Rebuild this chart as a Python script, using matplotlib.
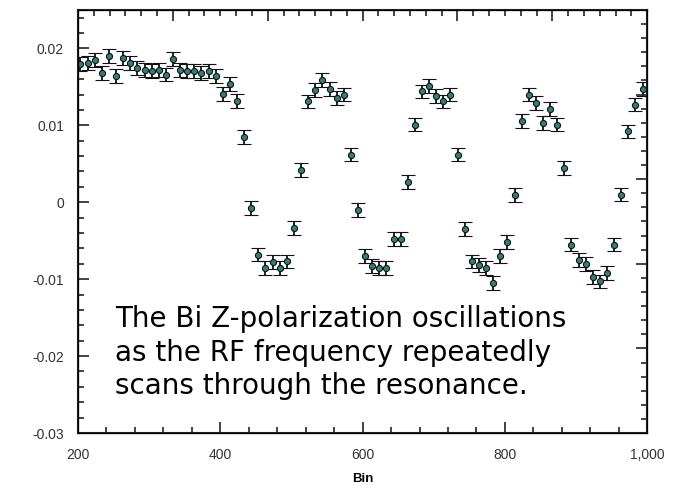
import numpy as np
import matplotlib
matplotlib.use("Agg")
import matplotlib.pyplot as plt
from matplotlib.ticker import MultipleLocator, FixedLocator, NullFormatter, FuncFormatter

# --- measured polarization per bin ---
bins = [203.5 + 10 * i for i in range(80)]
pol = [
    0.0180, 0.0181, 0.0185, 0.0168, 0.0190, 0.0164, 0.0188, 0.0181, 0.0175, 0.0172,
    0.0171, 0.0172, 0.0166, 0.0186, 0.0172, 0.0171, 0.0171, 0.0168, 0.0171, 0.0164,
    0.0141, 0.0154, 0.0132, 0.0085, -0.0007, -0.0068, -0.0086, -0.0078, -0.0085, -0.0077,
    -0.0033, 0.0042, 0.0131, 0.0146, 0.0159, 0.0147, 0.0136, 0.0140, 0.0062, -0.0010,
    -0.0070, -0.0083, -0.0086, -0.0085, -0.0048, -0.0048, 0.0026, 0.0101, 0.0144, 0.0151,
    0.0138, 0.0131, 0.0140, 0.0062, -0.0035, -0.0077, -0.0082, -0.0086, -0.0105, -0.0070,
    -0.0052, 0.0009, 0.0106, 0.0140, 0.0129, 0.0103, 0.0121, 0.0101, 0.0045, -0.0055,
    -0.0075, -0.0080, -0.0097, -0.0103, -0.0092, -0.0055, 0.0010, 0.0092, 0.0127, 0.0147,
]
pol_err = [0.0009] * 80

note = ("The Bi Z-polarization oscillations\n"
        "as the RF frequency repeatedly\n"
        "scans through the resonance.")

plt.rcParams["font.family"] = ["Liberation Sans", "DejaVu Sans"]

fig = plt.figure(figsize=(6.9, 4.98), dpi=100)
ax = fig.add_axes([0.113, 0.1305, 0.825, 0.8495])

ax.errorbar(bins, pol, yerr=pol_err, fmt="o", ms=4.4, mfc="#2f7f7a", mec="#111111",
            mew=0.8, ecolor="#111111", elinewidth=1.3, capsize=4.8, capthick=1.7, zorder=3)

ax.set_xlim(200, 1000)
ax.set_ylim(-0.03, 0.025)

# bottom / left ticks with labels
ax.xaxis.set_major_locator(FixedLocator([200, 400, 600, 800, 1000]))
ax.xaxis.set_minor_locator(MultipleLocator(40))
ax.xaxis.set_major_formatter(FuncFormatter(lambda v, p: f"{int(v):,}"))
ax.yaxis.set_major_locator(FixedLocator([-0.03, -0.02, -0.01, 0, 0.01, 0.02]))
ax.yaxis.set_minor_locator(MultipleLocator(0.002))
ax.yaxis.set_major_formatter(FuncFormatter(lambda v, p: "0" if abs(v) < 1e-9 else f"{v:g}"))
ax.tick_params(which="both", direction="in", top=False, right=False,
               color="#222222", width=1.2, labelsize=10, labelcolor="#333333")
ax.tick_params(which="major", length=8)
ax.tick_params(which="minor", length=4.5)
ax.tick_params(axis="y", pad=10)
ax.tick_params(axis="x", pad=11)

for s in ax.spines.values():
    s.set_linewidth(1.5)
    s.set_color("#222222")

# unlabeled top and right scales
axt = ax.twiny()
axt.set_xlim(0, 6)
axt.xaxis.set_major_locator(MultipleLocator(1))
axt.xaxis.set_minor_locator(MultipleLocator(1 / 6))
axt.xaxis.set_major_formatter(NullFormatter())
axt.tick_params(which="both", direction="in", color="#222222", width=1.2)
axt.tick_params(which="major", length=8)
axt.tick_params(which="minor", length=4.5)

axr = ax.twinx()
axr.set_ylim(0, 5)
axr.yaxis.set_major_locator(MultipleLocator(1))
axr.yaxis.set_minor_locator(MultipleLocator(1 / 6))
axr.yaxis.set_major_formatter(NullFormatter())
axr.tick_params(which="both", direction="in", color="#222222", width=1.2)
axr.tick_params(which="major", length=8)
axr.tick_params(which="minor", length=4.5)

ax.set_xlabel("Bin", fontsize=9.5, fontweight="bold", labelpad=8)

ax.text(0.065, 0.302, note, transform=ax.transAxes, ha="left", va="top",
        fontsize=20, family="DejaVu Sans", linespacing=1.24, color="black")

fig.savefig("out.png", dpi=100)
